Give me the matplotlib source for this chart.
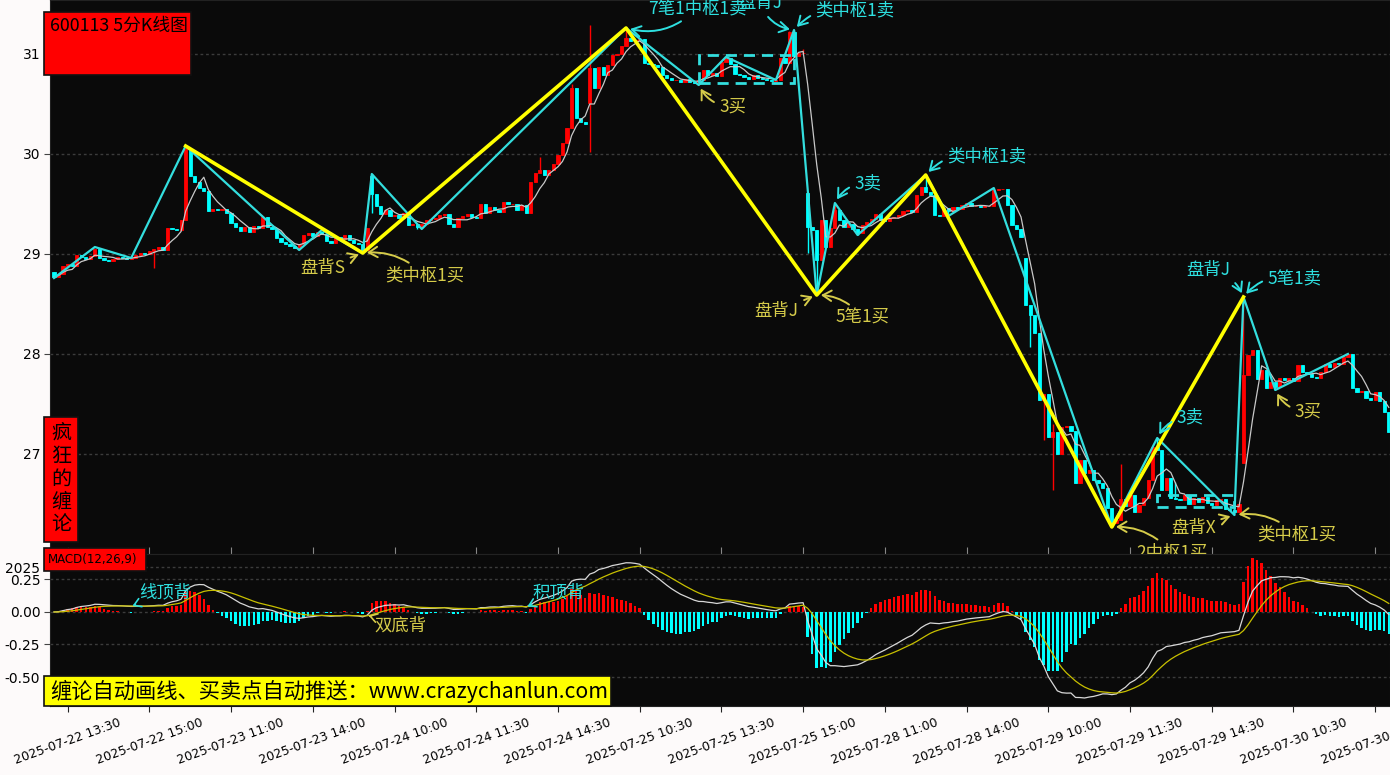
import matplotlib
matplotlib.use('Agg')
import matplotlib.pyplot as plt
from matplotlib.patches import Rectangle
import numpy as np
import pandas as pd

plt.rcParams['axes.unicode_minus'] = False

# 5-minute closes, 600113, 2025-07-22 13:15 .. 2025-07-30 13:45
closes = [
    28.77, 28.80, 28.88, 28.90, 28.88, 28.99, 28.97, 28.95, 28.98, 29.05,
    28.96, 28.94, 28.93, 28.95, 28.97, 28.96, 28.95, 28.96, 28.99, 29.01,
    29.00, 29.03, 29.05, 29.07, 29.04, 29.26, 29.25, 29.24, 29.34, 30.05,
    29.78, 29.72, 29.66, 29.63, 29.43, 29.45, 29.44, 29.45, 29.41, 29.31,
    29.27, 29.23, 29.27, 29.22, 29.28, 29.26, 29.37, 29.27, 29.25, 29.16,
    29.12, 29.10, 29.08, 29.06, 29.10, 29.19, 29.21, 29.18, 29.22, 29.20,
    29.13, 29.11, 29.17, 29.15, 29.19, 29.14, 29.11, 29.10, 29.04, 29.26,
    29.60, 29.48, 29.40, 29.44, 29.38, 29.39, 29.36, 29.41, 29.29, 29.30,
    29.27, 29.30, 29.34, 29.35, 29.36, 29.39, 29.40, 29.30, 29.27, 29.36,
    29.38, 29.40, 29.37, 29.36, 29.50, 29.41, 29.47, 29.44, 29.42, 29.52,
    29.50, 29.50, 29.44, 29.49, 29.41, 29.72, 29.81, 29.84, 29.79, 29.84,
    29.90, 29.99, 30.11, 30.26, 30.66, 30.36, 30.32, 30.30, 30.86, 30.66,
    30.87, 30.79, 30.89, 30.99, 31.00, 31.08, 31.16, 31.13, 31.14, 31.15,
    30.91, 30.90, 30.89, 30.87, 30.79, 30.76, 30.74, 30.74, 30.72, 30.75,
    30.72, 30.71, 30.74, 30.84, 30.79, 30.81, 30.78, 30.92, 30.96, 30.90,
    30.80, 30.79, 30.77, 30.75, 30.79, 30.76, 30.75, 30.74, 30.73, 30.74,
    30.96, 30.91, 31.22, 30.98, 31.01, 31.01, 29.27, 29.24, 28.94, 29.34,
    29.07, 29.26, 29.44, 29.34, 29.27, 29.30, 29.25, 29.21, 29.29, 29.32,
    29.35, 29.40, 29.34, 29.33, 29.36, 29.37, 29.39, 29.43, 29.44, 29.42,
    29.59, 29.67, 29.62, 29.59, 29.39, 29.38, 29.46, 29.43, 29.47, 29.45,
    29.49, 29.51, 29.48, 29.48, 29.47, 29.48, 29.48, 29.64, 29.65, 29.65,
    29.49, 29.29, 29.25, 29.17, 28.49, 28.39, 28.21, 27.54, 27.60, 27.17,
    27.22, 27.00, 27.27, 27.28, 27.23, 26.71, 26.94, 26.81, 26.84, 26.74,
    26.71, 26.66, 26.46, 26.31, 26.34, 26.55, 26.48, 26.59, 26.42, 26.49,
    26.56, 26.74, 27.07, 27.04, 26.64, 26.76, 26.56, 26.55, 26.54, 26.59,
    26.50, 26.56, 26.52, 26.57, 26.51, 26.49, 26.54, 26.55, 26.45, 26.44,
    26.42, 26.50, 27.79, 27.99, 28.04, 27.75, 27.84, 27.66, 27.72, 27.67,
    27.76, 27.74, 27.76, 27.73, 27.89, 27.82, 27.80, 27.77, 27.76, 27.82,
    27.90, 27.87, 27.91, 27.90, 27.97, 28.00, 27.66, 27.62, 27.63, 27.56,
    27.54, 27.62, 27.53, 27.42, 27.22,
]
first_open = 28.82
# opening gaps at the start of a session
gap_opens = {70: 29.78, 118: 30.51, 166: 29.61, 214: 28.96, 262: 26.91}
wick_highs = {29: 30.08, 70: 29.80, 107: 29.97, 114: 30.70, 118: 31.29, 126: 31.26,
              148: 30.97, 162: 31.23, 163: 31.24, 165: 31.05, 172: 29.51, 192: 29.79,
              207: 29.66, 220: 27.30, 235: 26.90, 243: 27.16, 247: 26.72, 262: 28.57,
              285: 28.00}
wick_lows = {0: 28.76, 22: 28.86, 54: 29.04, 68: 29.01, 70: 29.41, 80: 29.25,
             118: 30.02, 142: 30.69, 166: 29.01, 168: 28.59, 177: 29.19, 197: 29.38,
             215: 28.07, 218: 27.14, 220: 26.64, 233: 26.27, 235: 26.34, 260: 26.39,
             269: 27.64}

# chanlun strokes (bi) and segments (xianduan): bar index, price
bi_idx = [0, 9, 17, 29, 54, 59, 68, 70, 81, 126, 142, 148, 159, 163, 168, 172, 177,
          192, 197, 207, 233, 243, 260, 262, 269, 285]
bi_px = [28.76, 29.07, 28.96, 30.08, 29.04, 29.24, 29.01, 29.80, 29.25, 31.26, 30.69,
         30.97, 30.74, 31.24, 28.59, 29.51, 29.19, 29.79, 29.38, 29.66, 26.27, 27.16,
         26.39, 28.57, 27.64, 28.00]
seg_idx = [29, 68, 126, 168, 192, 233, 262]
seg_px = [30.08, 29.01, 31.26, 28.59, 29.79, 26.27, 28.57]

# pivot boxes (zhongshu): start bar, end bar, low, high
zs_start = [142, 243]
zs_end = [163, 260]
zs_low = [30.71, 26.47]
zs_high = [30.99, 26.59]

# buy / sell point labels: text, bar index, price, kind
sig_text = ['7笔1中枢1卖', '盘背J', '类中枢1卖', '3买', '盘背S', '类中枢1买', '盘背J',
            '5笔1买', '3卖', '类中枢1卖', '3卖', '2中枢1买', '盘背X', '类中枢1买',
            '盘背J', '5笔1卖', '3买']
sig_idx = [126, 163, 163, 142, 68, 68, 168, 168, 172, 192, 243, 233, 260, 260, 262, 262, 269]
sig_px = [31.26, 31.24, 31.24, 30.69, 29.01, 29.01, 28.59, 28.59, 29.51, 29.79, 27.16,
          26.27, 26.39, 26.39, 28.57, 28.57, 27.64]
sig_kind = ['sell', 'sell', 'sell', 'buy', 'buy', 'buy', 'buy', 'buy', 'sell', 'sell',
            'sell', 'buy', 'buy', 'buy', 'sell', 'sell', 'buy']

# MACD divergence labels
div_text = ['线顶背', '双底背', '积顶背']
div_idx = [17, 69, 104]
div_kind = ['sell', 'buy', 'sell']

tick_idx = [3, 21, 39, 57, 75, 93, 111, 129, 147, 165, 183, 201, 219, 237, 255, 273, 291]
tick_labels = ['2025-07-22 13:30', '2025-07-22 15:00', '2025-07-23 11:00',
               '2025-07-23 14:00', '2025-07-24 10:00', '2025-07-24 11:30',
               '2025-07-24 14:30', '2025-07-25 10:30', '2025-07-25 13:30',
               '2025-07-25 15:00', '2025-07-28 11:00', '2025-07-28 14:00',
               '2025-07-29 10:00', '2025-07-29 11:30', '2025-07-29 14:30',
               '2025-07-30 10:30', '2025-07-30 13:30']

CJK = ['Noto Sans CJK SC', 'DejaVu Sans']
BUY_C = '#d6cc4a'
SELL_C = '#2ee0e0'

W, H = 1390, 775
fig = plt.figure(figsize=(W / 100, H / 100), dpi=100, facecolor='#fdfafa')


def fbox(x0, y0, x1, y1):
    # pixel box (top-left origin) -> figure fraction rect
    return [x0 / W, 1 - y1 / H, (x1 - x0) / W, (y1 - y0) / H]


ax = fig.add_axes(fbox(50, 0, 1390, 554), facecolor='#0a0a0a')
axm = fig.add_axes(fbox(50, 554, 1390, 706), facecolor='#0a0a0a', sharex=ax)

# candles
c = np.array(closes)
n = len(c)
idx = np.arange(n)
o = np.r_[first_open, c[:-1]]
for k, v in gap_opens.items():
    o[k] = v
hi = np.maximum(o, c)
lo = np.minimum(o, c)
for k, v in wick_highs.items():
    hi[k] = v
for k, v in wick_lows.items():
    lo[k] = v
col = np.where(c >= o, '#ff0000', '#00ffff')
ax.vlines(idx, lo, hi, colors=col, lw=1, zorder=2)
ax.bar(idx, np.abs(c - o), bottom=np.minimum(o, c), width=0.7, color=col,
       edgecolor=col, linewidth=0.6, zorder=2)

ma5 = pd.Series(c).rolling(5, min_periods=1).mean()
ax.plot(idx, ma5, color='#c8c8c8', lw=0.9, zorder=3)

ax.plot(bi_idx, bi_px, color='#33dede', lw=1.6, zorder=4)
ax.plot(seg_idx, seg_px, color='#ffff00', lw=2.6, zorder=5)

for s, e, l, h in zip(zs_start, zs_end, zs_low, zs_high):
    ax.add_patch(Rectangle((s, l), e - s, h - l, fill=False, ec='#33dede', lw=2,
                           ls=(0, (4, 2.5)), zorder=4))

# label placement (pixels from the pivot) and arrow bend
offsets = [(71, 20), (-34, 27), (61, 20), (34, -22), (-40, -15), (62, -23), (-40, -16),
           (46, -23), (33, 20), (61, 19), (33, 21), (60, -26), (-41, -13), (62, -20),
           (-35, 27), (51, 19), (33, -22)]
bends = [-0.3, 0.3, 0.3, -0.3, 0.0, 0.25, 0.0, 0.25, 0.3, 0.3, 0.3, 0.25, 0.0, 0.25,
         -0.3, 0.3, -0.3]
for t, i, p, k, (dx, dy), rad in zip(sig_text, sig_idx, sig_px, sig_kind, offsets, bends):
    colr = BUY_C if k == 'buy' else SELL_C
    ax.annotate(t, xy=(i, p), xytext=(dx, dy), textcoords='offset pixels',
                ha='center', va='center', fontsize=12.5, family=CJK, color=colr,
                clip_on=True, zorder=6,
                arrowprops=dict(arrowstyle='->,head_length=0.5,head_width=0.3',
                                color=colr, lw=1.4, shrinkA=2, shrinkB=3,
                                connectionstyle='arc3,rad=%s' % rad))

ax.set_xlim(-0.88, 294.27)
ax.set_ylim(26.0, 31.54)
ax.set_yticks([27, 28, 29, 30, 31])
ax.set_yticklabels(['27', '28', '29', '30', '31'], fontsize=10)
ax.yaxis.grid(True, color='#3c3c3c', ls=(0, (2, 2)), lw=1)
ax.set_axisbelow(True)
ax.tick_params(axis='y', length=4, color='#444444', pad=3)
ax.tick_params(axis='x', direction='in', length=5, color='#888888', labelbottom=False)
for sp in ax.spines.values():
    sp.set_color('#222222')

# MACD
ema12 = pd.Series(c).ewm(span=12, adjust=False).mean()
ema26 = pd.Series(c).ewm(span=26, adjust=False).mean()
dif = ema12 - ema26
dea = dif.ewm(span=9, adjust=False).mean()
hist = 2 * (dif - dea)
axm.bar(idx, hist, width=0.55, color=np.where(hist >= 0, '#ff0000', '#00ffff'), zorder=2)
axm.plot(idx, dif, color='#d8d8d8', lw=0.9, zorder=3)
axm.plot(idx, dea, color='#c8c000', lw=0.9, zorder=3)

div_off = [(34, 14), (33, -10), (32, 15)]
for t, i, k, (dx, dy) in zip(div_text, div_idx, div_kind, div_off):
    colr = BUY_C if k == 'buy' else SELL_C
    axm.annotate(t, xy=(i, dif[i]), xytext=(dx, dy), textcoords='offset pixels',
                 ha='center', va='center', fontsize=12.5, family=CJK, color=colr, zorder=6,
                 arrowprops=dict(arrowstyle='->,head_length=0.4,head_width=0.25',
                                 color=colr, lw=1.2, shrinkA=1, shrinkB=1))

axm.set_ylim(-0.723, 0.446)
axm.set_yticks([0.346, 0.25, 0.0, -0.25, -0.5])
axm.set_yticklabels(['2025', '0.25', '0.00', '-0.25', '-0.50'], fontsize=10)
axm.yaxis.grid(True, color='#3c3c3c', ls=(0, (2, 2)), lw=1)
axm.set_axisbelow(True)
axm.set_xticks(tick_idx)
axm.set_xticklabels(tick_labels, rotation=20, ha='center', fontsize=9)
axm.tick_params(axis='x', length=4, color='#222222', pad=3)
axm.tick_params(axis='y', length=4, color='#444444', pad=3)
for sp in axm.spines.values():
    sp.set_color('#222222')


# title boxes
def label_box(x0, y0, x1, y1, fc):
    fig.add_artist(Rectangle((x0 / W, 1 - y1 / H), (x1 - x0) / W, (y1 - y0) / H,
                             transform=fig.transFigure, fc=fc, ec='#111111', lw=1.2,
                             zorder=10))


label_box(44, 12, 191, 75, '#ff0000')
fig.text(50 / W, 1 - 26 / H, '600113 5分K线图', ha='left', va='center', fontsize=12.8,
         family=CJK, color='black', zorder=11)
label_box(44, 417, 78, 542, '#ff0000')
fig.text(61 / W, 1 - 479 / H, '\n'.join('疯狂的缠论'), ha='center', va='center',
         fontsize=14.5, family=CJK, color='black', linespacing=1.12, zorder=11)
label_box(44, 548, 146, 571, '#ff0000')
fig.text(48 / W, 1 - 560 / H, 'MACD(12,26,9)', ha='left', va='center', fontsize=8.5,
         color='black', zorder=11)
label_box(44, 676, 611, 706, '#ffff00')
fig.text(50 / W, 1 - 691 / H, '缠论自动画线、买卖点自动推送：www.crazychanlun.com',
         ha='left', va='center', fontsize=15.3, family=CJK, color='black', zorder=11)

fig.savefig('out.png', dpi=100, facecolor=fig.get_facecolor())
